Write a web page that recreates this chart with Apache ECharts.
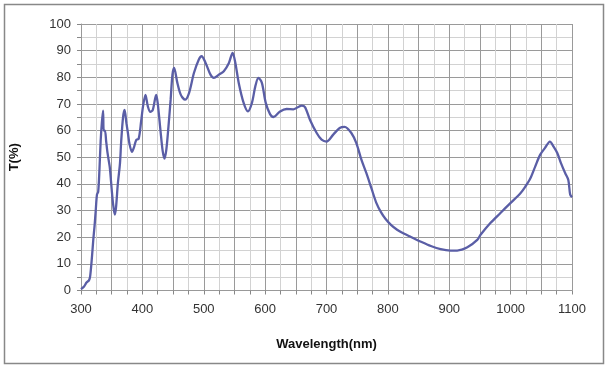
<!DOCTYPE html>
<html>
<head>
<meta charset="utf-8">
<script src="https://cdn.jsdelivr.net/npm/echarts@6/dist/echarts.min.js"></script>
<style>html,body{margin:0;padding:0;background:#fff}#c{width:607px;height:365px}</style>
</head>
<body>
<div id="c"></div>
<script>
const wavelength = [300,305,309,313,315,318,320,322,324,326,328,330,332,334,336,337,339,341,343,345,347,350,352,355,357,360,363.5,365.5,368.5,371,374,376.5,379,383,386,390,394,398,401,405,409,413,417,422.5,425,429.5,433,436,439,442.5,446,449,451.7,457,462.5,469.5,476,484,492,496.5,503,511,516.5,524.6,532.7,541,547,551.5,557,565,572,578.5,584,589,594.7,601,608,613.7,624.4,635,646,659.5,665,673,684,692,700,711,721.5,729.6,740.5,748.6,757,765,773,781,789,796,805,815,825,837.6,854,870,886,902,913,929.5,945.6,951,967,983,999.6,1016,1024,1032,1040,1048,1056,1064,1070,1076,1082,1089,1094,1097,1100];
const transmittance = [0.5,1.5,3.0,3.8,5.5,13,19,24,30,36,37,45,56,63,67.5,60,60,56,52,49,46,38,33,28.5,31,40,47.7,56,65,67.8,62.8,59,55,52,53.5,56.5,57,63.5,69,73.4,69,67,67.8,73.4,70.3,60,52.5,49.5,52.8,61.5,71.5,81,83.5,77.9,73.5,71.6,74.1,81.6,86.7,87.9,85.4,81,79.8,81,82.3,85.4,89.2,85.4,77.9,70.4,67.2,70.4,76.6,79.8,77.9,70.4,66.2,65.1,67.2,68.1,68,69.4,68.8,64.1,59.1,56.6,55.9,58.5,61,61.4,59.1,55.3,49,44,38.5,33,29.3,26.9,24.6,22.8,21.5,20.1,18.3,16.7,15.5,15.0,15.0,16.2,19,20.9,25.3,29,32.8,36.5,39,42,46.5,50.9,53.5,55.9,54,51.6,47.8,44,41.5,36,35];
const xTitle = 'Wavelength(nm)';
const yTitle = 'T(%)';

const chart = echarts.init(document.getElementById('c'), null, {renderer: 'canvas'});
const pts = wavelength.map((w, i) => [w, transmittance[i]]);
const font = 'Liberation Sans, Arial, sans-serif';
chart.setOption({
  animation: false,
  backgroundColor: '#fff',
  graphic: [{
    type: 'rect', left: 2, top: 2, z: -10,
    shape: {x: 0, y: 0, width: 599, height: 359},
    style: {fill: 'none', stroke: '#888', lineWidth: 1.5}
  }],
  grid: {left: 78, right: 35, top: 24, bottom: 74.5, containLabel: false},
  xAxis: {
    type: 'value', min: 300, max: 1100, interval: 50,
    name: xTitle, nameLocation: 'middle', nameGap: 47,
    nameTextStyle: {fontFamily: font, fontWeight: 'bold', fontSize: 13, color: '#111'},
    axisLine: {show: true, lineStyle: {color: '#999', width: 1}},
    axisTick: {show: true, length: 4, lineStyle: {color: '#888'}},
    minorTick: {show: true, splitNumber: 2, length: 4, lineStyle: {color: '#888'}},
    axisLabel: {fontFamily: font, fontSize: 13, color: '#333', margin: 12,
      formatter: v => (v % 100 === 0 ? String(v) : '')},
    splitLine: {show: true, lineStyle: {color: '#9a9a9a', width: 1}},
    minorSplitLine: {show: true, lineStyle: {color: '#d2d2d2', width: 1}}
  },
  yAxis: {
    type: 'value', min: 0, max: 100, interval: 10,
    name: yTitle, nameLocation: 'middle', nameGap: 60, nameRotate: 90,
    nameTextStyle: {fontFamily: font, fontWeight: 'bold', fontSize: 13, color: '#111'},
    axisLine: {show: true, lineStyle: {color: '#999', width: 1}},
    axisTick: {show: true, length: 4, lineStyle: {color: '#888'}},
    minorTick: {show: true, splitNumber: 2, length: 4, lineStyle: {color: '#888'}},
    axisLabel: {fontFamily: font, fontSize: 13, color: '#333', margin: 10},
    splitLine: {show: true, lineStyle: {color: '#9a9a9a', width: 1}},
    minorSplitLine: {show: true, lineStyle: {color: '#d2d2d2', width: 1}}
  },
  series: [{
    type: 'line', data: pts, showSymbol: false, smooth: 0.3,
    lineStyle: {color: '#5a5ea6', width: 2.3},
    itemStyle: {color: '#5a5ea6'}
  }]
});
</script>
</body>
</html>
